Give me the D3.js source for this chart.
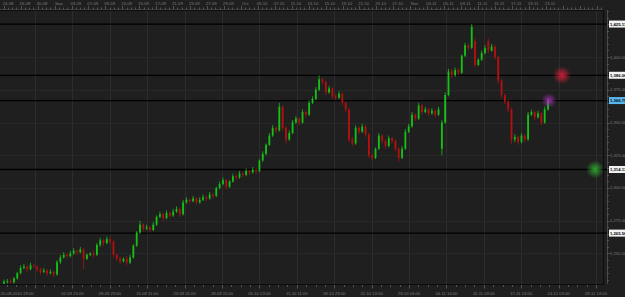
<!DOCTYPE html>
<html>
<head>
<meta charset="utf-8">
<script src="https://cdn.jsdelivr.net/npm/d3@7"></script>
<style>
  html, body { margin: 0; padding: 0; background: #1f1f1f; overflow: hidden; }
  svg { display: block; }
  text { font-family: "Liberation Sans", Arial, sans-serif; }
</style>
</head>
<body>
<div class="chart-container"></div>
<script>
// candle data (price)
var opens = [1227,1228.5,1229,1228,1231,1235,1239,1240,1238,1241,1240,1238,1236,1237,1235,1236,1234,1243.5,1247,1249,
  1248,1250,1252,1251,1253,1246,1249,1250,1249,1256.5,1260,1258,1261,1259,1249,1246,1244,1246,1243,1247,
  1256,1266,1272,1269,1270,1268,1272,1278,1280,1277,1281,1279,1282,1284,1280,1289,1291,1290,1292,1289,
  1291,1293,1292,1295,1294,1300,1303,1306,1301,1305,1309,1308,1311,1310,1313,1312,1314,1313,1321,1326,
  1333,1340,1346,1344,1362,1346,1337,1342,1350,1353,1350,1358,1356,1365,1368,1375,1383,1381,1373,1376,
  1370,1369,1372,1365,1360,1337,1334,1346,1343,1347,1341,1325,1323,1330,1340,1336,1332,1338,1336,1330,
  1323,1330,1343,1347,1356,1353,1363,1358,1360,1357,1359,1356,1330,1350,1371,1389,1386,1390,1388,1401,
  1409,1407,1412,1394,1398,1403,1412,1405,1408,1400,1382,1371,1366,1360,1337,1339,1335,1340,1337,1356,
  1358,1354,1357,1350,1360];
var highs = [1230,1230.5,1231,1232,1236,1241,1242,1241,1243,1242,1241,1239,1239,1238,1238,1237,1245,1249,1251,1250,
  1252,1254,1253,1255,1254,1250,1251,1252,1258,1262,1261,1263,1262,1260,1250,1248,1247,1248,1249,1257,
  1267,1275,1273,1272,1271,1274,1279,1282,1281,1283,1282,1284,1286,1285,1291,1293,1292,1294,1293,1293,
  1295,1294,1297,1296,1301,1305,1308,1307,1306,1311,1310,1313,1312,1315,1314,1316,1315,1322,1328,1334,
  1342,1348,1347,1365,1363,1347,1344,1352,1355,1354,1360,1359,1367,1370,1377,1386,1384,1382,1378,1377,
  1372,1374,1373,1366,1361,1339,1348,1347,1349,1348,1342,1326,1331,1342,1341,1337,1340,1339,1337,1331,
  1332,1345,1349,1358,1357,1365,1364,1362,1361,1361,1360,1362,1352,1373,1391,1391,1392,1391,1402,1411,
  1410,1425.1,1414,1399,1405,1409,1414,1410,1409,1401,1383,1372,1367,1361,1341,1340,1342,1341,1358,1360,
  1359,1359,1358,1362,1368];
var lows = [1226,1227,1227,1227,1230,1234,1238,1236,1237,1239,1236,1234,1235,1233,1234,1232,1233,1242,1246,1246,
  1247,1249,1249,1250,1238,1245,1248,1247,1248,1255,1256,1257,1257,1247,1244,1242,1243,1241,1242,1246,
  1255,1265,1267,1268,1266,1267,1271,1277,1275,1276,1277,1278,1281,1278,1279,1288,1288,1289,1287,1288,
  1290,1290,1291,1292,1293,1299,1302,1299,1300,1304,1306,1307,1308,1309,1310,1311,1311,1312,1320,1325,
  1332,1339,1342,1343,1344,1334,1336,1341,1349,1348,1349,1354,1355,1364,1367,1374,1379,1371,1372,1368,
  1367,1368,1363,1358,1335,1332,1333,1341,1342,1339,1323,1321,1322,1329,1334,1330,1331,1334,1328,1320,
  1322,1329,1342,1346,1351,1352,1356,1357,1355,1356,1354,1355,1325,1349,1370,1384,1385,1386,1387,1400,
  1405,1406,1392,1393,1397,1402,1403,1404,1398,1380,1369,1364,1358,1334,1335,1333,1334,1335,1336,1355,
  1352,1353,1348,1349,1359];
var closes = [1228.5,1229,1228,1231,1235,1239,1240,1238,1241,1240,1238,1236,1237,1235,1236,1234,1243.5,1247,1249,1248,
  1250,1252,1251,1253,1246,1249,1250,1249,1256.5,1260,1258,1261,1259,1249,1246,1244,1246,1243,1247,1256,
  1266,1272,1269,1270,1268,1272,1278,1280,1277,1281,1279,1282,1284,1280,1289,1291,1290,1292,1289,1291,
  1293,1292,1295,1294,1300,1303,1306,1301,1305,1309,1308,1311,1310,1313,1312,1314,1313,1321,1326,1333,
  1340,1346,1344,1362,1346,1337,1342,1350,1353,1350,1358,1356,1365,1368,1375,1383,1381,1373,1376,1370,
  1369,1372,1365,1360,1337,1334,1346,1343,1347,1341,1325,1323,1330,1340,1336,1332,1338,1336,1330,1323,
  1330,1343,1347,1356,1353,1363,1358,1360,1357,1359,1356,1360,1350,1371,1389,1386,1390,1388,1401,1409,
  1407,1423,1394,1398,1403,1407,1405,1408,1400,1382,1371,1366,1360,1337,1339,1335,1340,1337,1356,1358,
  1354,1357,1350,1360,1366.7];

// horizontal levels drawn as black lines with a white price box
var levels = [1425.17, 1386.06, 1314.13, 1265.56];
var lastPrice = 1366.75;
var priceTicks = [1250, 1275, 1300, 1325, 1350, 1375, 1400];

var topLabels = ["24-08","26-08","30-08","Sep","03-09","07-09","09-09","13-09","15-09","17-09","21-09",
  "23-09","27-09","29-09","Oct","05-10","07-10","11-10","13-10","15-10","19-10","21-10","25-10","27-10",
  "Nov","03-11","05-11","09-11","11-11","15-11","17-11","19-11","23-11"];
var bottomLabels = ["20-08-2010 19:00","02-09 15:00","08-09 23:00","15-09 11:00","23-09 21:00","28-09 11:00",
  "05-10 23:00","11-10 11:00","18-10 23:00","22-10 13:00","29-10 03:00","04-11 14:00","11-11 03:00",
  "17-11 13:00","24-11 03:00","29-11 13:00"];

// glow markers on the right (price level, bar position)
var glows = [
  {price: 1386.06, pos: 168.2, color: "#e0203a"},
  {price: 1366.75, pos: 164.3, color: "#a030b0"},
  {price: 1314.13, pos: 178.2, color: "#30b030"}
];

document.addEventListener("DOMContentLoaded", function () {
    var w = 625, h = 297;
    var left = 0, right = 603, top = 10, bottom = 284, axisX = 607;

    var svg = d3.select(".chart-container")
        .append("svg")
        .attr("width", w)
        .attr("height", h);

    svg.append("rect").attr("width", w).attr("height", h).attr("fill", "#1f1f1f");

    var x = d3.scaleLinear().domain([0, closes.length - 1]).range([4, 548]);
    var y = d3.scaleLinear().domain([1226.7, 1435.9]).range([bottom, top]);
    var gridX = d3.scaleLinear().domain([0, bottomLabels.length - 1]).range([35, 596]);
    var topX = d3.scalePoint().domain(topLabels).range([8, 550]);

    var defs = svg.append("defs");
    defs.append("clipPath").attr("id", "plot-clip")
        .append("rect").attr("x", left).attr("y", top)
        .attr("width", right - left).attr("height", bottom - top);

    glows.forEach(function (g, i) {
        var grad = defs.append("radialGradient").attr("id", "glow" + i);
        grad.append("stop").attr("offset", "0%").attr("stop-color", g.color).attr("stop-opacity", 0.9);
        grad.append("stop").attr("offset", "40%").attr("stop-color", g.color).attr("stop-opacity", 0.55);
        grad.append("stop").attr("offset", "100%").attr("stop-color", g.color).attr("stop-opacity", 0);
    });

    //grid
    var grid = svg.append("g");
    grid.selectAll(".vg")
        .data(bottomLabels)
        .enter()
        .append("line")
        .attr("x1", function (d, i) { return Math.round(gridX(i)) + 0.5; })
        .attr("x2", function (d, i) { return Math.round(gridX(i)) + 0.5; })
        .attr("y1", top).attr("y2", bottom)
        .attr("stroke", "#2d2d2d");
    grid.selectAll(".hg")
        .data(priceTicks)
        .enter()
        .append("line")
        .attr("x1", left).attr("x2", right)
        .attr("y1", function (d) { return Math.round(y(d)) + 0.5; })
        .attr("y2", function (d) { return Math.round(y(d)) + 0.5; })
        .attr("stroke", "#282828");

    // plot frame
    svg.append("rect")
        .attr("x", left - 1).attr("y", top + 0.5)
        .attr("width", right - left + 1.5).attr("height", bottom - top)
        .attr("fill", "none").attr("stroke", "#0c0c0c");

    // level lines
    svg.selectAll(".level")
        .data(levels.concat([lastPrice]))
        .enter()
        .append("line")
        .attr("x1", left).attr("x2", axisX)
        .attr("y1", function (d) { return y(d); })
        .attr("y2", function (d) { return y(d); })
        .attr("stroke", "#000")
        .attr("stroke-width", 1.3);

    // candles
    var idx = d3.range(closes.length);
    var candles = svg.append("g").attr("clip-path", "url(#plot-clip)");
    var color = function (i) { return closes[i] >= opens[i] ? "#16c016" : "#b51010"; };

    candles.selectAll(".wick")
        .data(idx)
        .enter()
        .append("line")
        .attr("x1", function (i) { return x(i); })
        .attr("x2", function (i) { return x(i); })
        .attr("y1", function (i) { return y(highs[i]); })
        .attr("y2", function (i) { return y(lows[i]); })
        .attr("stroke", color)
        .attr("stroke-width", 0.8);

    candles.selectAll(".body")
        .data(idx)
        .enter()
        .append("rect")
        .attr("x", function (i) { return x(i) - 0.9; })
        .attr("width", 1.8)
        .attr("y", function (i) { return y(Math.max(opens[i], closes[i])); })
        .attr("height", function (i) { return Math.max(0.8, Math.abs(y(opens[i]) - y(closes[i]))); })
        .attr("fill", color);

    // glows
    svg.selectAll(".glow")
        .data(glows)
        .enter()
        .append("circle")
        .attr("cx", function (d) { return x(d.pos); })
        .attr("cy", function (d) { return y(d.price); })
        .attr("r", function (d, i) { return i === 1 ? 7.5 : 9; })
        .attr("fill", function (d, i) { return "url(#glow" + i + ")"; });

    // top ruler
    var topAxis = svg.append("g");
    var step = (topX(topLabels[1]) - topX(topLabels[0])) / 4;
    var topTicks = d3.range(0, 160).map(function (k) { return topX(topLabels[0]) - 8 * step + k * step; })
        .filter(function (v) { return v >= 0 && v <= right; });
    topAxis.selectAll("line")
        .data(topTicks)
        .enter()
        .append("line")
        .attr("x1", function (d) { return Math.round(d) + 0.5; })
        .attr("x2", function (d) { return Math.round(d) + 0.5; })
        .attr("y1", function (d, i) { return i % 4 === 0 ? 6 : 7.5; })
        .attr("y2", 9.5)
        .attr("stroke", "#6a6a6a").attr("stroke-width", 0.7);
    topAxis.append("line").attr("x1", 0).attr("x2", right).attr("y1", 9.5).attr("y2", 9.5)
        .attr("stroke", "#555").attr("stroke-width", 0.6);
    topAxis.selectAll("text")
        .data(topLabels)
        .enter()
        .append("text")
        .attr("x", function (d) { return topX(d); })
        .attr("y", 5)
        .attr("text-anchor", "middle")
        .attr("font-size", 4.2)
        .attr("fill", "#7c7c7c")
        .text(function (d) { return d; });

    // bottom ruler
    var bAxis = svg.append("g");
    var bStep = (gridX(1) - gridX(0)) / 4;
    var bTicks = d3.range(-4, 70).map(function (k) { return gridX(0) + k * bStep; })
        .filter(function (v) { return v >= 0 && v <= right; });
    bAxis.selectAll("line")
        .data(bTicks)
        .enter()
        .append("line")
        .attr("x1", function (d) { return Math.round(d) + 0.5; })
        .attr("x2", function (d) { return Math.round(d) + 0.5; })
        .attr("y1", 285)
        .attr("y2", function (d) { return Math.abs((d - gridX(0)) / (4 * bStep) - Math.round((d - gridX(0)) / (4 * bStep))) < 0.01 ? 288.5 : 287; })
        .attr("stroke", "#6a6a6a").attr("stroke-width", 0.7);
    bAxis.selectAll("text")
        .data(bottomLabels)
        .enter()
        .append("text")
        .attr("x", function (d, i) { return i === 0 ? 0.5 : gridX(i); })
        .attr("y", 294.5)
        .attr("text-anchor", function (d, i) { return i === 0 ? "start" : "middle"; })
        .attr("font-size", 4.2)
        .attr("fill", "#7c7c7c")
        .text(function (d) { return d; });

    // right price axis
    var rAxis = svg.append("g");
    rAxis.append("line").attr("x1", axisX + 0.5).attr("x2", axisX + 0.5).attr("y1", top).attr("y2", bottom)
        .attr("stroke", "#5a5a5a").attr("stroke-width", 0.7);
    var minor = d3.range(1230, 1436, 5);
    rAxis.selectAll(".mt")
        .data(minor)
        .enter()
        .append("line")
        .attr("x1", axisX).attr("x2", function (d) { return d % 25 === 0 ? axisX + 3 : axisX + 2; })
        .attr("y1", function (d) { return Math.round(y(d)) + 0.5; })
        .attr("y2", function (d) { return Math.round(y(d)) + 0.5; })
        .attr("stroke", "#6a6a6a").attr("stroke-width", 0.6);
    rAxis.selectAll(".pl")
        .data(priceTicks)
        .enter()
        .append("text")
        .attr("x", 610)
        .attr("y", function (d) { return y(d) + 1.5; })
        .attr("font-size", 4.2)
        .attr("fill", "#7c7c7c")
        .text(function (d) { return d3.format(",.2f")(d); });

    var boxes = levels.map(function (v) { return {v: v, fill: "#f2f2f2"}; })
        .concat([{v: lastPrice, fill: "#5ab8f0"}]);
    var bx = rAxis.selectAll(".box")
        .data(boxes)
        .enter()
        .append("g");
    bx.append("rect")
        .attr("x", 609).attr("width", 17)
        .attr("y", function (d) { return y(d.v) - 3.5; })
        .attr("height", 7)
        .attr("fill", function (d) { return d.fill; });
    bx.append("text")
        .attr("x", 610)
        .attr("y", function (d) { return y(d.v) + 1.5; })
        .attr("font-size", 4.2)
        .attr("font-weight", "bold")
        .attr("fill", "#000")
        .text(function (d) { return d3.format(",.2f")(d.v); });
});
</script>
</body>
</html>
